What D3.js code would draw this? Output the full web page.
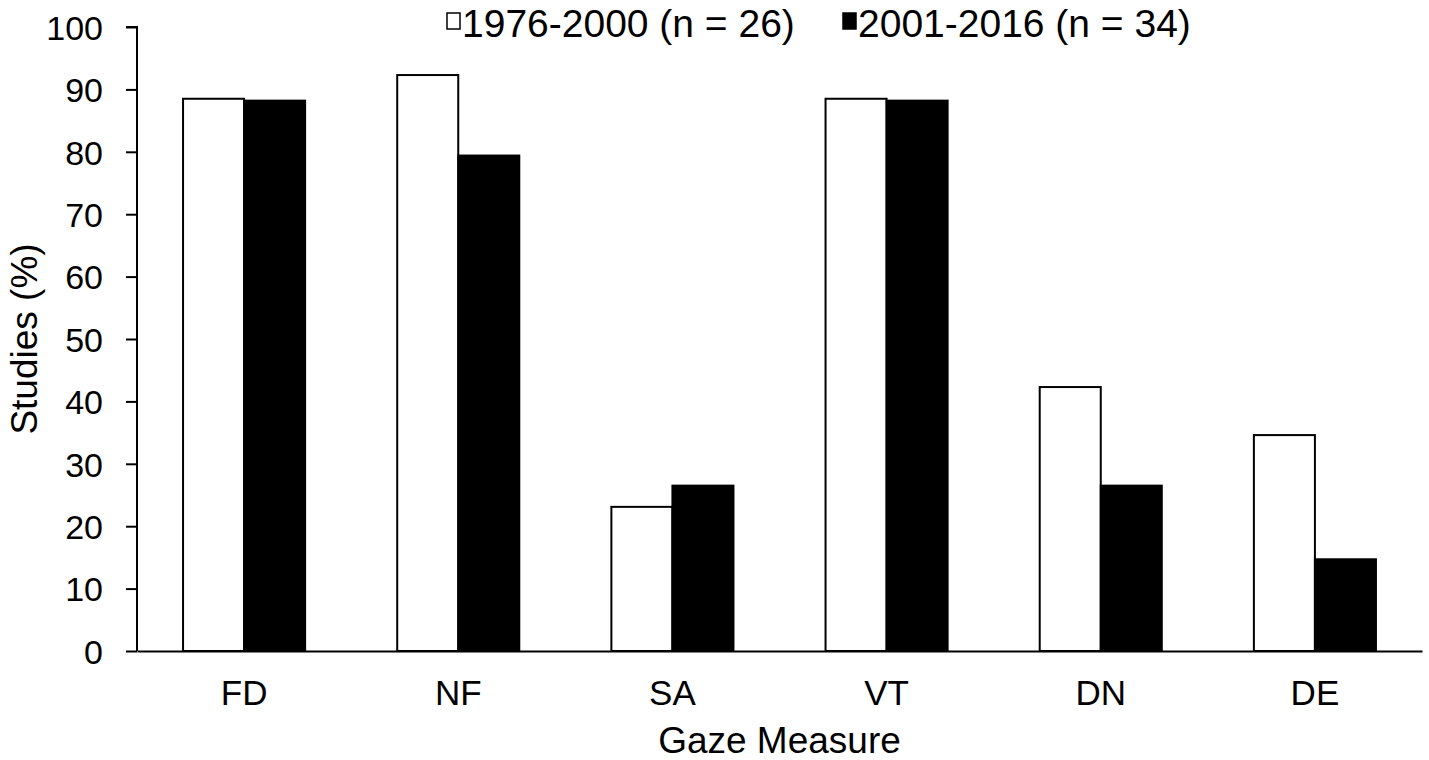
<!DOCTYPE html>
<html>
<head>
<meta charset="utf-8">
<script src="https://cdn.jsdelivr.net/npm/d3@7"></script>
<style>
  body { margin: 0; background: #fff; }
  text { font-family: "Liberation Sans", Arial, sans-serif; fill: #000; }
</style>
</head>
<body>
<div id="chart"></div>
<script>
// data
const measures = ["FD", "NF", "SA", "VT", "DN", "DE"];
const seriesNames = ["1976-2000 (n = 26)", "2001-2016 (n = 34)"];
const early = [88.5, 92.3, 23.1, 88.5, 42.3, 34.6];
const late = [88.2, 79.4, 26.5, 88.2, 26.5, 14.7];
const yTicks = [0, 10, 20, 30, 40, 50, 60, 70, 80, 90, 100];
const fills = ["#fff", "#000"];

const width = 1429, height = 760;
const margin = {top: 27, right: 7, bottom: 109, left: 137};

const svg = d3.select("#chart")
  .append("svg")
  .attr("width", width)
  .attr("height", height);

const yScale = d3.scaleLinear()
  .domain([0, 100])
  .range([height - margin.bottom, margin.top]);

const xScale = d3.scaleBand()
  .domain(measures)
  .range([margin.left, width - margin.right])
  .padding(0);

// inner band for the two periods
const bw = xScale.bandwidth();
const xInner = d3.scaleBand()
  .domain([0, 1])
  .range([bw * 0.215, bw * 0.785])
  .padding(0);

// y axis
const yAxis = svg.append("g")
  .attr("transform", `translate(${margin.left},0)`)
  .call(d3.axisLeft(yScale).tickValues(yTicks).tickSize(11).tickPadding(23));
yAxis.selectAll("text").attr("font-size", "34px").attr("dy", "0.36em");
yAxis.selectAll("line, path").attr("stroke", "#000").attr("stroke-width", 2);
yAxis.select(".domain").attr("d", `M-11,${yScale(100)}H0V${yScale(0)}`);

// bars
const rows = measures.map((m, i) => ({m: m, vals: [early[i], late[i]]}));
const groups = svg.selectAll(".grp")
  .data(rows)
  .enter()
  .append("g")
  .attr("class", "grp")
  .attr("transform", d => `translate(${xScale(d.m)},0)`);

groups.selectAll("rect")
  .data(d => d.vals.map((v, k) => ({v: v, k: k})))
  .enter()
  .append("rect")
  .attr("x", d => xInner(d.k))
  .attr("y", d => yScale(d.v))
  .attr("width", xInner.bandwidth())
  .attr("height", d => yScale(0) - yScale(d.v))
  .attr("fill", d => fills[d.k])
  .attr("stroke", "#000")
  .attr("stroke-width", 2);

// x axis
const xAxis = svg.append("g")
  .attr("transform", `translate(0,${yScale(0)})`)
  .call(d3.axisBottom(xScale).tickSize(0).tickPadding(29));
xAxis.selectAll("text").attr("font-size", "35px").attr("dy", "0.71em");
xAxis.select(".domain").attr("stroke", "#000").attr("stroke-width", 2);

// axis titles
svg.append("text")
  .attr("x", (margin.left + width - margin.right) / 2)
  .attr("y", 753)
  .attr("text-anchor", "middle")
  .attr("font-size", "37px")
  .text("Gaze Measure");

svg.append("text")
  .attr("transform", `translate(37,${(margin.top + yScale(0)) / 2}) rotate(-90)`)
  .attr("text-anchor", "middle")
  .attr("font-size", "37px")
  .text("Studies (%)");

// legend
const legendX = [447, 843];
const legend = svg.selectAll(".leg")
  .data(seriesNames)
  .enter()
  .append("g")
  .attr("class", "leg")
  .attr("transform", (d, i) => `translate(${legendX[i]},0)`);

legend.append("rect")
  .attr("x", 0)
  .attr("y", 13)
  .attr("width", 13)
  .attr("height", 16)
  .attr("fill", (d, i) => fills[i])
  .attr("stroke", "#000")
  .attr("stroke-width", 1.5);

legend.append("text")
  .attr("x", 15)
  .attr("y", 37)
  .attr("font-size", "39px")
  .text(d => d);
</script>
</body>
</html>
